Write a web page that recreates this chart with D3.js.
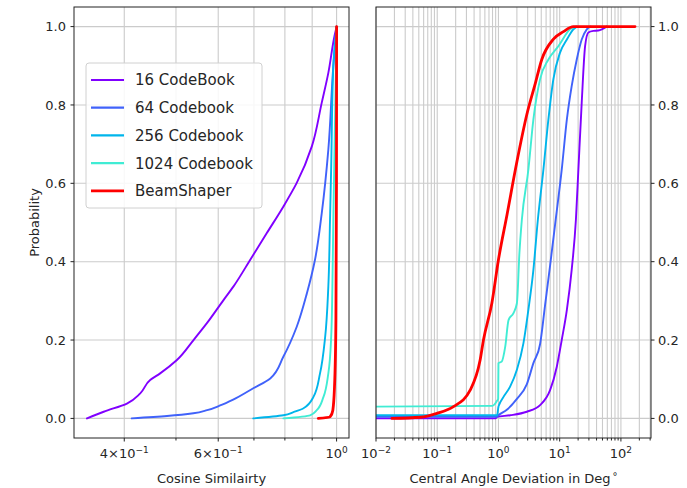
<!DOCTYPE html>
<html><head><meta charset="utf-8">
<script src="https://cdn.jsdelivr.net/npm/d3@7"></script>
<style>body{margin:0;background:#fff}svg{display:block}text{font-family:"DejaVu Sans",sans-serif;fill:#262626}</style>
</head><body>
<script>
// ---------- data ----------
const seriesNames = ["16 CodeBook","64 Codebook","256 Codebook","1024 Codebook","BeamShaper"];
const seriesColors = ["#8000ff","#4062fa","#00b5eb","#40ecd4","#ff0000"];

// Left panel: cosine similarity CDF  [x, probability]
const cos16 = [[0.3405,0],[0.366,0.017],[0.4046,0.038],[0.4286,0.064],[0.4473,0.098],[0.467,0.115],[0.502,0.149],[0.5393,0.2],[0.5714,0.243],[0.6138,0.302],[0.641,0.337],[0.689,0.405],[0.740,0.473],[0.795,0.541],[0.842,0.601],[0.899,0.695],[0.938,0.806],[0.965,0.882],[0.991,0.976],[1.0,1.0]];
const cos64 = [[0.413,0],[0.481,0.006],[0.539,0.013],[0.572,0.021],[0.605,0.033],[0.64,0.048],[0.698,0.077],[0.751,0.102],[0.795,0.158],[0.842,0.234],[0.880,0.320],[0.911,0.405],[0.938,0.524],[0.965,0.686],[0.986,0.899],[1.0,1.0]];
const cos256 = [[0.698,0],[0.795,0.008],[0.83,0.016],[0.867,0.026],[0.905,0.055],[0.931,0.115],[0.952,0.209],[0.965,0.337],[0.972,0.507],[0.977,0.643],[0.986,0.9],[1.0,1.0]];
const cos1024 = [[0.795,0],[0.892,0.008],[0.918,0.021],[0.945,0.055],[0.965,0.115],[0.977,0.209],[0.982,0.337],[0.986,0.507],[0.993,0.75],[1.0,1.0]];
const cosBeam = [[0.924,0],[0.972,0.004],[0.984,0.021],[0.991,0.08],[0.997,0.25],[0.9995,0.6],[1.0,1.0]];

// Right panel: central angle deviation CDF  [deg, probability]
const dev16 = [[0.01,0],[0.9,0],[0.94,0.004],[1.55,0.008],[2.9,0.017],[4.79,0.034],[6.97,0.072],[8.97,0.132],[10.8,0.2],[13.1,0.277],[15.7,0.379],[18.4,0.507],[20.2,0.635],[22.9,0.806],[26,0.95],[29.4,0.985],[35.5,0.989],[42.8,0.99],[58.6,1.0]];
const dev64 = [[0.01,0.004],[0.94,0.004],[1.0,0.008],[1.37,0.022],[2.0,0.05],[2.9,0.087],[3.72,0.141],[4.79,0.19],[5.78,0.29],[6.97,0.39],[8.6,0.507],[10.8,0.635],[13.1,0.763],[15.7,0.848],[19,0.916],[22.9,0.967],[27.7,0.993],[32,1.0]];
const dev256 = [[0.01,0.008],[0.95,0.008],[1.0,0.03],[1.02,0.034],[1.21,0.055],[1.55,0.081],[2.0,0.124],[2.56,0.192],[3.08,0.277],[3.72,0.379],[4.4,0.507],[5.42,0.635],[6.54,0.763],[7.89,0.866],[10.1,0.933],[13.1,0.967],[16.7,0.993],[19,1.0]];
const dev1024 = [[0.01,0.03],[0.8,0.032],[0.95,0.045],[0.99,0.05],[1.0,0.141],[1.13,0.145],[1.29,0.183],[1.46,0.251],[1.76,0.269],[2.0,0.294],[2.2,0.422],[2.41,0.507],[3.08,0.635],[3.72,0.763],[4.79,0.866],[6.54,0.916],[9.5,0.95],[14.8,0.993],[18,1.0]];
const devBeam = [[0.0182,0],[0.053,0.003],[0.099,0.013],[0.184,0.03],[0.345,0.072],[0.502,0.149],[0.569,0.2],[0.78,0.294],[1.0,0.405],[1.38,0.52],[2.0,0.655],[2.9,0.775],[4.0,0.855],[5.1,0.916],[7.9,0.968],[11.5,0.987],[16.7,1.0],[170,1.0]];

const yTicks = [0,0.2,0.4,0.6,0.8,1.0];
const cosTicks = [0.4,0.5,0.6,0.7,0.8,0.9,1.0];
const cosLabelTicks = [0.4,0.6,1.0];
const cosLabelBase = ["4×10","6×10","10"];
const cosLabelExp = ["−1","−1","0"];
const devMajorTicks = [0.01,0.1,1,10,100];
const devLabelExp = ["−2","−1","0","1","2"];

// ---------- layout ----------
const W = 687, H = 488;
const svg = d3.select("body").append("svg").attr("width",W).attr("height",H);
svg.append("rect").attr("width",W).attr("height",H).attr("fill","#fff");

const y = d3.scaleLinear().domain([-0.05,1.05]).range([438,7]);
const xL = d3.scaleLog().domain([0.322,1.055]).range([74,349]);
const xR = d3.scaleLog().domain([0.01,310]).range([376,651]);

const gridColor = "#cbcbcb";
function minorLogTicks(lo,hi){
  const out=[];
  for(let e=Math.floor(Math.log10(lo)); e<=Math.ceil(Math.log10(hi)); e++){
    for(let m=1;m<10;m++){const v=m*Math.pow(10,e); if(v>=lo*0.999&&v<=hi) out.push(v);}
  }
  return out;
}
const devAllTicks = minorLogTicks(0.01,310);

function panel(x, xTicks, id){
  const [x0,x1]=x.range(); const [y0,y1]=[7,438];
  const g = svg.append("g");
  g.selectAll(".vg").data(xTicks).join("line")
    .attr("x1",d=>x(d)).attr("x2",d=>x(d)).attr("y1",y0).attr("y2",y1)
    .attr("stroke",gridColor).attr("stroke-width",1.1);
  g.selectAll(".hg").data(yTicks).join("line")
    .attr("x1",x0).attr("x2",x1).attr("y1",d=>y(d)).attr("y2",d=>y(d))
    .attr("stroke",gridColor).attr("stroke-width",1.1);
  svg.append("clipPath").attr("id",id).append("rect")
    .attr("x",x0).attr("y",y0).attr("width",x1-x0).attr("height",y1-y0);
  return g;
}

function drawLines(x, sets, id, curve){
  const line = d3.line().x(d=>x(d[0])).y(d=>y(d[1])).curve(curve);
  const g = svg.append("g").attr("clip-path",`url(#${id})`);
  sets.forEach((s,i)=>{
    g.append("path").attr("d",line(s)).attr("fill","none")
      .attr("stroke",seriesColors[i]).attr("stroke-width", i===4?2.8:1.9)
      .attr("stroke-linejoin","round").attr("stroke-linecap","round");
  });
}

function frame(x){
  const [x0,x1]=x.range();
  svg.append("rect").attr("x",x0).attr("y",7).attr("width",x1-x0).attr("height",431)
    .attr("fill","none").attr("stroke","#222").attr("stroke-width",1);
}

panel(xL, cosTicks, "clipL");
drawLines(xL, [cos16,cos64,cos256,cos1024,cosBeam], "clipL", d3.curveMonotoneY);
frame(xL);
panel(xR, devAllTicks, "clipR");
drawLines(xR, [dev16,dev64,dev256,dev1024,devBeam], "clipR", d3.curveMonotoneX);
frame(xR);

// axes ticks
const ax = svg.append("g");
ax.selectAll(".lt").data(cosTicks).join("line")
  .attr("x1",d=>xL(d)).attr("x2",d=>xL(d)).attr("y1",438).attr("y2",d=>cosLabelTicks.includes(d)?441.5:440.5)
  .attr("stroke","#222");
cosLabelTicks.forEach((v,i)=>{
  const t = ax.append("text").attr("x",xL(v)).attr("y",458).attr("text-anchor","middle").attr("font-size",13);
  t.append("tspan").text(cosLabelBase[i]);
  t.append("tspan").attr("font-size",9).attr("dy",-5).text(cosLabelExp[i]);
});
ax.selectAll(".rt").data(devAllTicks).join("line")
  .attr("x1",d=>xR(d)).attr("x2",d=>xR(d)).attr("y1",438)
  .attr("y2",d=>devMajorTicks.some(m=>Math.abs(m-d)/m<1e-6)?441.5:440.5)
  .attr("stroke","#222");
devMajorTicks.forEach((v,i)=>{
  const t = ax.append("text").attr("x",xR(v)).attr("y",458).attr("text-anchor","middle").attr("font-size",13);
  t.append("tspan").text("10");
  t.append("tspan").attr("font-size",9).attr("dy",-5).text(devLabelExp[i]);
});
yTicks.forEach(v=>{
  ax.append("line").attr("x1",70.5).attr("x2",74).attr("y1",y(v)).attr("y2",y(v)).attr("stroke","#222");
  ax.append("text").attr("x",66).attr("y",y(v)).attr("dy","0.36em").attr("text-anchor","end").attr("font-size",13).text(v.toFixed(1));
  ax.append("line").attr("x1",651).attr("x2",654.5).attr("y1",y(v)).attr("y2",y(v)).attr("stroke","#222");
  ax.append("text").attr("x",658).attr("y",y(v)).attr("dy","0.36em").attr("text-anchor","start").attr("font-size",13).text(v.toFixed(1));
});

// axis labels
svg.append("text").attr("transform","translate(39,222.5) rotate(-90)").attr("text-anchor","middle").attr("font-size",13).text("Probability");
svg.append("text").attr("x",211.5).attr("y",483).attr("text-anchor","middle").attr("font-size",13).text("Cosine Similairty");
const rl = svg.append("text").attr("x",513.5).attr("y",483).attr("text-anchor","middle").attr("font-size",13);
rl.append("tspan").text("Central Angle Deviation in Deg");
rl.append("tspan").attr("dx",2).attr("font-size",10).attr("dy",-3).text("°");

// legend
const lg = svg.append("g");
lg.append("rect").attr("x",86).attr("y",63).attr("width",176).attr("height",145).attr("rx",3)
  .attr("fill","#fff").attr("fill-opacity",0.85).attr("stroke","#d0d0d0");
seriesNames.forEach((n,i)=>{
  const yy = 80 + i*27.7;
  lg.append("line").attr("x1",91).attr("x2",124).attr("y1",yy).attr("y2",yy)
    .attr("stroke",seriesColors[i]).attr("stroke-width",i===4?2.8:2.2);
  lg.append("text").attr("x",135).attr("y",yy).attr("dy","0.36em").attr("font-size",15).text(n);
});
</script>
</body></html>
